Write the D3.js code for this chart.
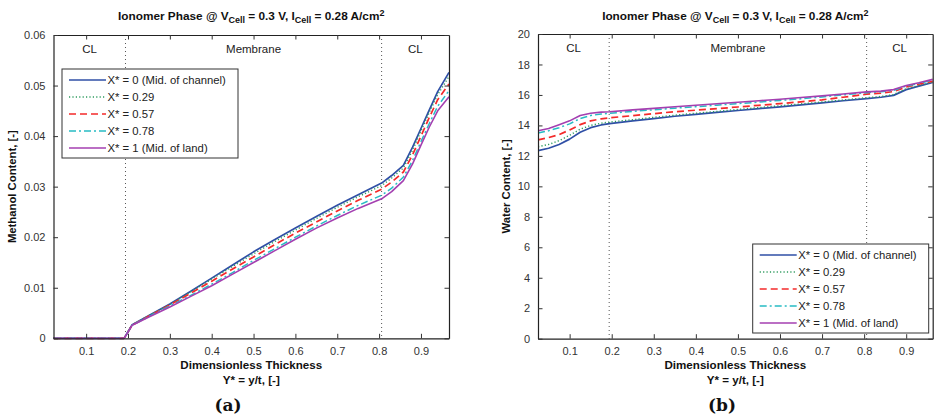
<!DOCTYPE html>
<html>
<head>
<meta charset="utf-8">
<script src="https://cdn.jsdelivr.net/npm/d3@7/dist/d3.min.js"></script>
<style>
  html, body { margin: 0; padding: 0; background: #fff; }
  svg { display: block; font-family: "Liberation Sans", Arial, sans-serif; }
</style>
</head>
<body>
<svg id="fig" width="934" height="418"></svg>
<script>
// ---- data -------------------------------------------------------------
const seriesLabels = ["X* = 0 (Mid. of channel)", "X* = 0.29", "X* = 0.57", "X* = 0.78", "X* = 1 (Mid. of land)"];
const regionLabels = ["CL", "Membrane", "CL"];
const regionBounds = [0.194, 0.806];
const xTicks = [0.1, 0.2, 0.3, 0.4, 0.5, 0.6, 0.7, 0.8, 0.9];
const methanolTicks = [0, 0.01, 0.02, 0.03, 0.04, 0.05, 0.06];
const waterTicks = [0, 2, 4, 6, 8, 10, 12, 14, 16, 18, 20];

// methanol content in the ionomer phase, panel (a)
const xMethanol = [0.022, 0.19, 0.193, 0.21, 0.25, 0.3, 0.35, 0.4, 0.45, 0.5, 0.55, 0.6, 0.65, 0.7, 0.75, 0.806, 0.83, 0.858, 0.88, 0.9, 0.92, 0.94, 0.967];
const methanolX0   = [0, 0, 0.0003, 0.0027, 0.0045, 0.0068, 0.0093, 0.0119, 0.0145, 0.0171, 0.0195, 0.0218, 0.0241, 0.0263, 0.0284, 0.0307, 0.0322, 0.0342, 0.0378, 0.0415, 0.0452, 0.0488, 0.0526];
const methanolX029 = [0, 0, 0.0003, 0.0027, 0.0045, 0.0067, 0.0092, 0.0117, 0.0142, 0.0167, 0.0191, 0.0214, 0.0237, 0.0259, 0.0280, 0.0302, 0.0317, 0.0337, 0.0372, 0.0410, 0.0447, 0.0482, 0.0518];
const methanolX057 = [0, 0, 0.0003, 0.0026, 0.0044, 0.0066, 0.0089, 0.0113, 0.0137, 0.0161, 0.0185, 0.0208, 0.0230, 0.0252, 0.0273, 0.0295, 0.0309, 0.0329, 0.0363, 0.0400, 0.0437, 0.0472, 0.0503];
const methanolX078 = [0, 0, 0.0003, 0.0026, 0.0043, 0.0064, 0.0085, 0.0107, 0.0130, 0.0154, 0.0177, 0.0200, 0.0222, 0.0243, 0.0263, 0.0283, 0.0297, 0.0319, 0.0352, 0.0389, 0.0425, 0.0459, 0.0490];
const methanolX1   = [0, 0, 0.0003, 0.0026, 0.0042, 0.0062, 0.0083, 0.0104, 0.0127, 0.0150, 0.0173, 0.0196, 0.0218, 0.0238, 0.0257, 0.0276, 0.0290, 0.0312, 0.0345, 0.0382, 0.0418, 0.0450, 0.0478];

// water content in the ionomer phase, panel (b)
const xWater = [0.025, 0.05, 0.075, 0.1, 0.125, 0.15, 0.175, 0.195, 0.25, 0.3, 0.35, 0.4, 0.45, 0.5, 0.55, 0.6, 0.65, 0.7, 0.75, 0.806, 0.84, 0.87, 0.9, 0.93, 0.963];
const waterX0   = [12.35, 12.50, 12.75, 13.10, 13.55, 13.85, 14.03, 14.12, 14.30, 14.45, 14.60, 14.72, 14.85, 14.98, 15.10, 15.22, 15.35, 15.48, 15.62, 15.76, 15.85, 15.97, 16.35, 16.58, 16.82];
const waterX029 = [12.60, 12.75, 13.00, 13.35, 13.75, 14.00, 14.15, 14.22, 14.38, 14.53, 14.67, 14.80, 14.92, 15.05, 15.17, 15.29, 15.41, 15.54, 15.67, 15.82, 15.90, 16.02, 16.40, 16.62, 16.85];
const waterX057 = [13.05, 13.20, 13.40, 13.70, 14.05, 14.30, 14.43, 14.50, 14.64, 14.77, 14.90, 15.00, 15.10, 15.21, 15.32, 15.43, 15.55, 15.68, 15.85, 16.05, 16.12, 16.22, 16.52, 16.70, 16.90];
const waterX078 = [13.50, 13.65, 13.85, 14.10, 14.45, 14.65, 14.75, 14.80, 14.92, 15.03, 15.13, 15.23, 15.33, 15.43, 15.53, 15.64, 15.75, 15.87, 16.00, 16.15, 16.21, 16.30, 16.58, 16.76, 16.97];
const waterX1   = [13.65, 13.80, 14.05, 14.30, 14.65, 14.80, 14.87, 14.90, 15.02, 15.12, 15.22, 15.32, 15.42, 15.52, 15.62, 15.72, 15.83, 15.94, 16.06, 16.20, 16.25, 16.35, 16.62, 16.80, 17.02];

// ---- line styles, one per series ---------------------------------------
const lineStyles = [
  { color: "#2f4fa6", dash: null,        width: 1.7 },
  { color: "#2e9b5e", dash: "1.2,2.2",   width: 1.4 },
  { color: "#f42a2a", dash: "7,4",       width: 1.7 },
  { color: "#27bcc4", dash: "7,3,2,3",   width: 1.5 },
  { color: "#a43fb0", dash: null,        width: 1.6 }
];

const svg = d3.select("#fig");

function drawTitle(g, cx, y) {
  const t = g.append("text").attr("x", cx).attr("y", y)
    .attr("text-anchor", "middle").attr("font-size", 11.8).attr("font-weight", "bold").attr("fill", "#111");
  t.append("tspan").text("Ionomer Phase @ V");
  t.append("tspan").attr("dy", 3).attr("font-size", 9).text("Cell");
  t.append("tspan").attr("dy", -3).text(" = 0.3 V, I");
  t.append("tspan").attr("dy", 3).attr("font-size", 9).text("Cell");
  t.append("tspan").attr("dy", -3).text(" = 0.28 A/cm");
  t.append("tspan").attr("dy", -4).attr("font-size", 9).text("2");
}

function drawPanel(p) {
  const g = svg.append("g");
  const x = d3.scaleLinear().domain(p.xDomain).range([p.left, p.right]);
  const y = d3.scaleLinear().domain(p.yDomain).range([p.bottom, p.top]);
  const tickLen = 4.5;

  g.append("rect").attr("x", p.left).attr("y", p.top)
    .attr("width", p.right - p.left).attr("height", p.bottom - p.top).attr("fill", "#fff");

  // region separators
  g.selectAll("line.sep").data(regionBounds).join("line")
    .attr("x1", d => x(d)).attr("x2", d => x(d))
    .attr("y1", p.top).attr("y2", p.bottom)
    .attr("stroke", "#555").attr("stroke-width", 1).attr("stroke-dasharray", "1,3");

  // region names
  const edges = [p.xDomain[0], regionBounds[0], regionBounds[1], p.xDomain[1]];
  g.selectAll("text.region").data(regionLabels).join("text")
    .attr("x", (d, i) => (x(edges[i]) + x(edges[i + 1])) / 2)
    .attr("y", p.top + 18)
    .attr("text-anchor", "middle").attr("font-size", 11.5).attr("fill", "#222")
    .text(d => d);

  // curves
  const line = d3.line().x(d => x(d[0])).y(d => y(d[1]));
  p.series.forEach((vals, i) => {
    const st = lineStyles[i];
    g.append("path")
      .datum(p.xs.map((xv, k) => [xv, vals[k]]))
      .attr("d", line).attr("fill", "none")
      .attr("stroke", st.color).attr("stroke-width", st.width)
      .attr("stroke-dasharray", st.dash)
      .attr("stroke-linejoin", "round");
  });

  // axes (ticks inward on all four sides)
  const axBottom = d3.axisBottom(x).tickValues(xTicks).tickFormat(d3.format(".1f")).tickSizeInner(-tickLen).tickSizeOuter(0).tickPadding(9);
  const axTop = d3.axisTop(x).tickValues(xTicks).tickFormat("").tickSizeInner(-tickLen).tickSizeOuter(0);
  const axLeft = d3.axisLeft(y).tickValues(p.yTicks).tickFormat(p.yFormat).tickSizeInner(-tickLen).tickSizeOuter(0).tickPadding(8);
  const axRight = d3.axisRight(y).tickValues(p.yTicks).tickFormat("").tickSizeInner(-tickLen).tickSizeOuter(0);

  const gB = g.append("g").attr("transform", `translate(0,${p.bottom})`).call(axBottom);
  const gT = g.append("g").attr("transform", `translate(0,${p.top})`).call(axTop);
  const gL = g.append("g").attr("transform", `translate(${p.left},0)`).call(axLeft);
  const gR = g.append("g").attr("transform", `translate(${p.right},0)`).call(axRight);
  [gB, gT, gL, gR].forEach(a => {
    a.select(".domain").attr("stroke", "#222").attr("stroke-width", 1.2);
    a.selectAll(".tick line").attr("stroke", "#333").attr("stroke-width", 1);
    a.selectAll(".tick text").attr("font-size", 11).attr("fill", "#333")
      .attr("font-family", "'Liberation Sans', Arial, sans-serif");
  });

  // legend
  const lg = g.append("g").attr("transform", `translate(${p.legend.x},${p.legend.y})`);
  lg.append("rect").attr("width", p.legend.w).attr("height", p.legend.h)
    .attr("fill", "#fff").attr("stroke", "#333").attr("stroke-width", 1);
  seriesLabels.forEach((lab, i) => {
    const yy = 11 + i * 17;
    const st = lineStyles[i];
    lg.append("line").attr("x1", 7).attr("x2", 44).attr("y1", yy).attr("y2", yy)
      .attr("stroke", st.color).attr("stroke-width", st.width).attr("stroke-dasharray", st.dash);
    lg.append("text").attr("x", 45.5).attr("y", yy + 4).attr("font-size", 11.3).attr("fill", "#222").text(lab);
  });

  // titles and labels
  const cx = (p.left + p.right) / 2;
  drawTitle(g, cx, 19.5);
  g.append("text").attr("x", cx).attr("y", 369).attr("text-anchor", "middle")
    .attr("font-size", 11.6).attr("font-weight", "bold").attr("fill", "#111").text("Dimensionless Thickness");
  g.append("text").attr("x", cx).attr("y", 384).attr("text-anchor", "middle")
    .attr("font-size", 11.6).attr("font-weight", "bold").attr("fill", "#111").text("Y* = y/t, [-]");
  g.append("text").attr("transform", `translate(${p.yLabelX},${(p.top + p.bottom) / 2}) rotate(-90)`)
    .attr("text-anchor", "middle").attr("font-size", 11.3).attr("font-weight", "bold").attr("fill", "#111")
    .text(p.yLabel);
  g.append("text").attr("x", p.captionX).attr("y", 411).attr("text-anchor", "middle")
    .attr("font-family", "'DejaVu Serif', 'Liberation Serif', serif").attr("font-size", 17).attr("font-weight", "bold")
    .attr("fill", "#111").text(p.caption);
}

drawPanel({
  left: 53.5, right: 449, top: 35, bottom: 338.3,
  xDomain: [0.022, 0.967], yDomain: [0, 0.06],
  yTicks: methanolTicks, yFormat: d => d === 0 ? "0" : d3.format(".2f")(d),
  xs: xMethanol,
  series: [methanolX0, methanolX029, methanolX057, methanolX078, methanolX1],
  legend: { x: 62, y: 69, w: 176, h: 89 },
  yLabel: "Methanol Content, [-]", yLabelX: 16,
  caption: "(a)", captionX: 228
});

drawPanel({
  left: 538, right: 932.7, top: 34, bottom: 338.7,
  xDomain: [0.0248, 0.963], yDomain: [0, 20],
  yTicks: waterTicks, yFormat: d3.format("d"),
  xs: xWater,
  series: [waterX0, waterX029, waterX057, waterX078, waterX1],
  legend: { x: 752.7, y: 244, w: 176, h: 89 },
  yLabel: "Water Content, [-]", yLabelX: 510,
  caption: "(b)", captionX: 722
});
</script>
</body>
</html>
